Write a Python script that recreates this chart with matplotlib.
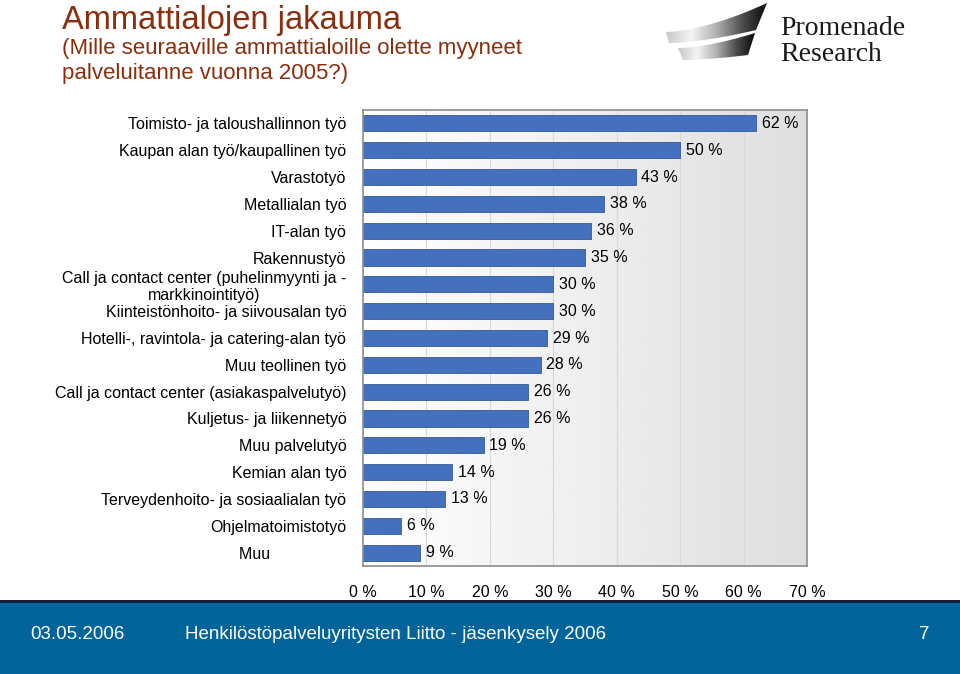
import numpy as np
import matplotlib
matplotlib.use("Agg")
import matplotlib.pyplot as plt
from matplotlib.patches import Rectangle, Polygon
from matplotlib.colors import LinearSegmentedColormap

plt.rcParams['font.family'] = ['Liberation Sans', 'DejaVu Sans']

categories = [
    "Toimisto- ja taloushallinnon työ",
    "Kaupan alan työ/kaupallinen työ",
    "Varastotyö",
    "Metallialan työ",
    "IT-alan työ",
    "Rakennustyö",
    "Call ja contact center (puhelinmyynti ja -\nmarkkinointityö)",
    "Kiinteistönhoito- ja siivousalan työ",
    "Hotelli-, ravintola- ja catering-alan työ",
    "Muu teollinen työ",
    "Call ja contact center (asiakaspalvelutyö)",
    "Kuljetus- ja liikennetyö",
    "Muu palvelutyö",
    "Kemian alan työ",
    "Terveydenhoito- ja sosiaalialan työ",
    "Ohjelmatoimistotyö",
    "Muu",
]
values = [62, 50, 43, 38, 36, 35, 30, 30, 29, 28, 26, 26, 19, 14, 13, 6, 9]
xticks = [0, 10, 20, 30, 40, 50, 60, 70]

title_color = '#8B2E0E'
bar_color = '#4470BE'

fig = plt.figure(figsize=(9.6, 6.74), dpi=100)

# titles
fig.text(62/960, 1 - 29/674, "Ammattialojen jakauma", fontsize=23.5, color=title_color)
fig.text(62/960, 1 - 54/674, "(Mille seuraaville ammattialoille olette myyneet",
         fontsize=16, color=title_color)
fig.text(62/960, 1 - 79/674, "palveluitanne vuonna 2005?)", fontsize=16, color=title_color)

# logo: two shaded swoosh bands
lax = fig.add_axes([0, 0, 1, 1], zorder=-1)
lax.axis('off')
cmap = LinearSegmentedColormap.from_list('sw', ['#c8c8c8', '#f4f4f4', '#b0b0b0', '#505050', '#080808'])
t = np.linspace(0, 1, 30)

def band(x0, y0, x1, y1, x2, y2, x3, y3):
    top = np.column_stack([x0 + (x1 - x0) * t, y0 - (y0 - y1) * t ** 1.6])
    bot = np.column_stack([x3 + (x2 - x3) * t, y3 - (y3 - y2) * t ** 1.6])
    pts = np.vstack([top, bot[::-1]])
    poly = Polygon(pts, closed=True, fc='none', ec='none')
    lax.add_patch(poly)
    im = lax.imshow(np.linspace(0, 1, 256).reshape(1, -1), cmap=cmap, aspect='auto',
                    extent=[min(x0, x3), max(x1, x2), 70, 0], zorder=1)
    im.set_clip_path(poly)

band(666, 32, 767, 3, 756, 30, 669, 43)
band(678, 48, 755, 33, 748, 55, 683, 60)
lax.set_xlim(0, 960)
lax.set_ylim(674, 0)
fig.text(780/960, 1 - 35/674, "Promenade", fontsize=20, family='Liberation Serif', color='#1a1a1a')
fig.text(780/960, 1 - 61/674, "Research", fontsize=20, family='Liberation Serif', color='#1a1a1a')

# footer
fig.patches.append(Rectangle((0, 0), 1, 74/674, transform=fig.transFigure, fc='#02649A', ec='none', zorder=0))
fig.patches.append(Rectangle((0, 71/674), 1, 3/674, transform=fig.transFigure, fc='#14213A', ec='none', zorder=0))
fig.text(30/960, 1 - 639/674, "03.05.2006", fontsize=13.5, color='white')
fig.text(185/960, 1 - 639/674, "Henkilöstöpalveluyritysten Liitto - jäsenkysely 2006", fontsize=13.5, color='white')
fig.text(930/960, 1 - 639/674, "7", fontsize=13.5, color='white', ha='right')

# chart
ax = fig.add_axes([363/960, 1 - 566/674, 444/960, 456/674])
y = np.arange(len(values))
grad = np.linspace(1.0, 0.87, 256).reshape(1, -1)
ax.imshow(grad, cmap='gray', vmin=0, vmax=1, aspect='auto',
          extent=[0, 70, len(values) - 0.5, -0.5], zorder=0)
for tk in xticks[1:-1]:
    ax.axvline(tk, color='#d8d8d8', lw=0.8, zorder=1)
ax.barh(y, values, height=0.6, color=bar_color, edgecolor='#35589a', lw=0.6, zorder=2)
for yi, v in zip(y, values):
    ax.text(v + 0.9, yi, f"{v} %", va='center', ha='left', fontsize=11.5, color='black', zorder=3)

ax.set_xlim(0, 70)
ax.set_ylim(len(values) - 0.5, -0.5)
ax.set_xticks(xticks)
ax.set_xticklabels([f"{tk} %" for tk in xticks], fontsize=11.5)
ax.set_yticks(y)
labels = list(categories)
labels[-1] = "Muu" + " " * 17
ax.set_yticklabels(labels, fontsize=11.5)
ax.get_yticklabels()[6].set_multialignment('center')
ax.tick_params(axis='both', length=0)
ax.tick_params(axis='x', pad=14)
ax.tick_params(axis='y', pad=12)
for s in ax.spines.values():
    s.set_color('#8c8c8c')
    s.set_linewidth(1.2)

fig.savefig("out.png", dpi=100)
